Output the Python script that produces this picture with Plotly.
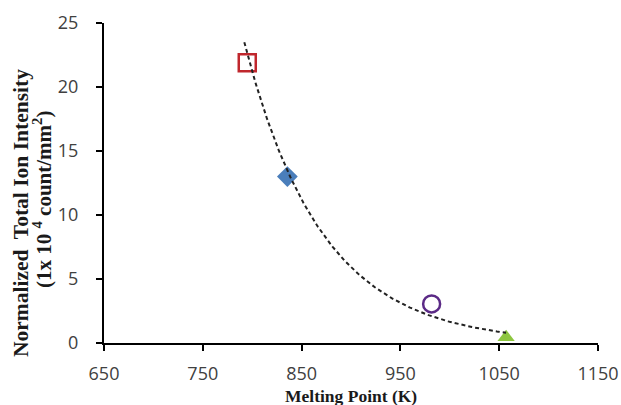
import numpy as np
import plotly.graph_objects as go

# Data
melting_point = [795, 835.6, 981.6, 1057]
intensity = [21.9, 13.0, 3.05, 0.45]
marker_symbols = ["square-open", "diamond", "circle-open", "triangle-up"]
marker_colors = ["#C0272D", "#4A7EBB", "#5B2A86", "#8DC63F"]
marker_sizes = [17, 16, 17, 15]

# Exponential trendline (as drawn in the picture): y = Y0 * exp(RATE * (x - X0))
TREND_X0 = 792
TREND_Y0 = 23.5
TREND_RATE = -0.012755
TREND_X_END = 1057

x_ticks = [650, 750, 850, 950, 1050, 1150]
y_ticks = [0, 5, 10, 15, 20, 25]

fig = go.Figure()

for x, y, s, c, sz in zip(melting_point, intensity, marker_symbols, marker_colors, marker_sizes):
    fig.add_trace(go.Scatter(
        x=[x], y=[y], mode="markers",
        marker=dict(symbol=s, color=c, size=sz,
                    line=dict(color=c, width=2.5 if "open" in s else 0)),
        showlegend=False, hoverinfo="x+y"))

tx = np.linspace(TREND_X0, TREND_X_END, 200)
ty = TREND_Y0 * np.exp(TREND_RATE * (tx - TREND_X0))
fig.add_trace(go.Scatter(x=tx, y=ty, mode="lines",
                         line=dict(color="#222222", width=2, dash="4px,3px"),
                         showlegend=False, hoverinfo="skip"))

tick_font = dict(family="Open Sans, Liberation Sans, sans-serif", size=18, color="#404040")
title_font_family = "Liberation Serif, Times New Roman, serif"

fig.update_layout(
    width=621, height=405,
    margin=dict(l=104, r=23, t=23, b=62, autoexpand=False),
    paper_bgcolor="white", plot_bgcolor="white",
    xaxis=dict(range=[650, 1150], tickvals=x_ticks, ticktext=[str(v) for v in x_ticks],
               showgrid=False, zeroline=False, showline=True, linecolor="black", linewidth=2,
               ticks="outside", ticklen=6, tickwidth=2, tickcolor="black", automargin=False,
               tickfont=tick_font, ticklabelstandoff=7),
    yaxis=dict(range=[0, 25], tickvals=y_ticks, ticktext=[str(v) for v in y_ticks],
               showgrid=False, zeroline=False, showline=True, linecolor="black", linewidth=2,
               ticks="outside", ticklen=6, tickwidth=2, tickcolor="black", automargin=False,
               tickfont=tick_font, ticklabelstandoff=14),
    annotations=[
        dict(text="<b>Melting Point (K)</b>", x=0.5, y=0, xref="paper", yref="paper",
             xanchor="center", yanchor="middle", yshift=-53, showarrow=False,
             font=dict(family=title_font_family, size=17.5, color="#1a1a1a")),
        dict(text="<b>Normalized  Total Ion Intensity</b>",
             x=0, y=(343 - 213) / 320, xref="paper", yref="paper", xanchor="center", yanchor="middle",
             xshift=21 - 104, textangle=-90, showarrow=False,
             font=dict(family=title_font_family, size=21.5, color="#1a1a1a")),
        dict(text="<b>(1x 10 <sup>4</sup> count/mm<sup>2</sup>)</b>",
             x=0, y=(343 - 200) / 320, xref="paper", yref="paper", xanchor="center", yanchor="middle",
             xshift=42 - 104, textangle=-90, showarrow=False,
             font=dict(family=title_font_family, size=21, color="#1a1a1a")),
    ],
)

fig.write_html("out.html", config={"displayModeBar": False},
               post_script="document.body.style.margin='0';")
